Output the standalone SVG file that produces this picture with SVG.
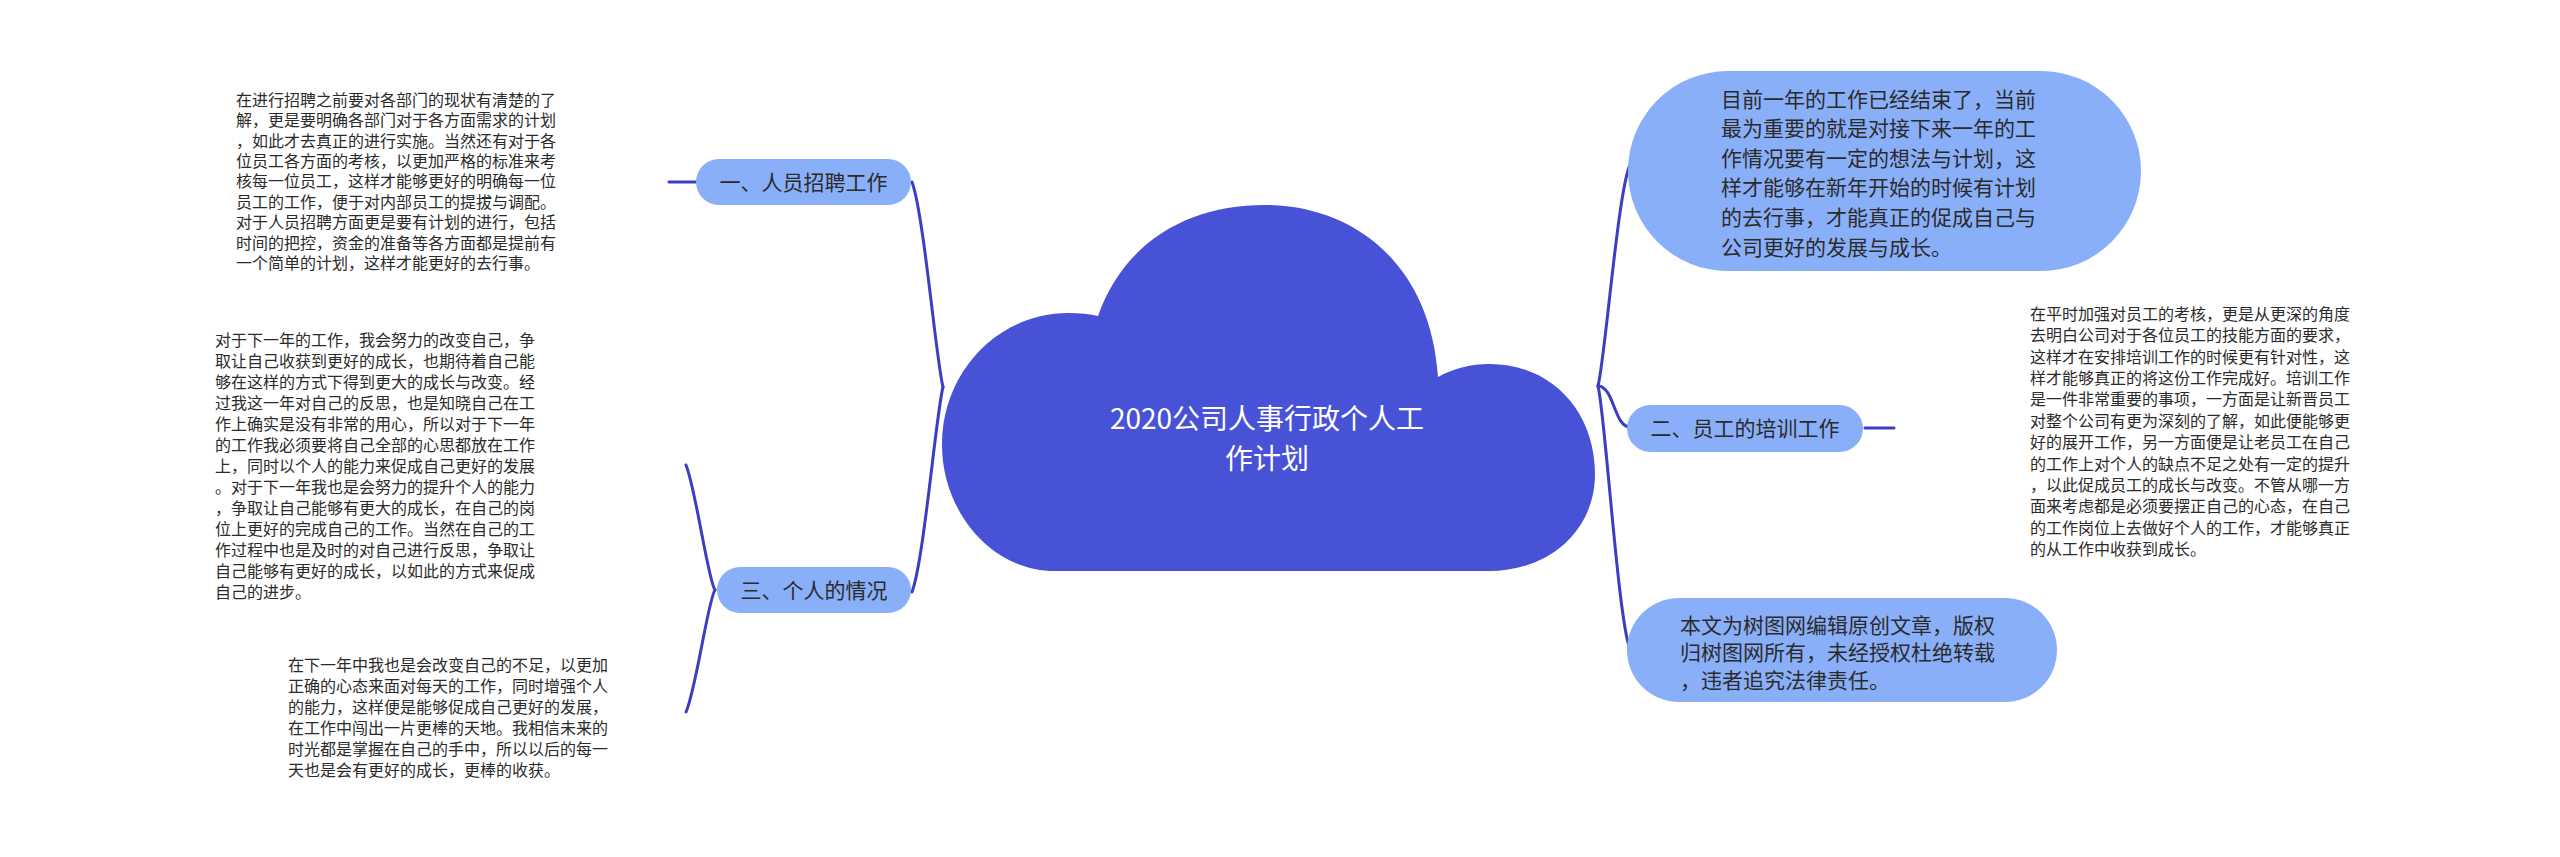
<svg xmlns="http://www.w3.org/2000/svg" width="2560" height="857" viewBox="0 0 2560 857">
<style>
.conn{fill:none;stroke:#3a3fc2;stroke-width:3;stroke-linecap:round}
.pill{fill:#8aaff9}
.cloud{fill:#4752d6}
.t{font-family:"Noto Sans CJK SC","Liberation Sans",sans-serif;fill:#2b2b2b}
.small{font-size:16px}
.mid{font-size:21px}
.title{font-family:"Noto Sans CJK SC","Liberation Sans",sans-serif;font-size:28px;fill:#ffffff}
</style>
<rect width="2560" height="857" fill="#ffffff"/>
<g id="connectors">
<path class="conn" d="M943 387 C936 360 924 215 912 182"/>
<path class="conn" d="M943 387 C936 414 924 560 912 592"/>
<path class="conn" d="M669 182 L696 182"/>
<path class="conn" d="M715 590 C708 580 696 490 686 465"/>
<path class="conn" d="M715 590 C708 600 696 690 686 712"/>
<path class="conn" d="M1598 386 C1605 360 1618 190 1630 165"/>
<path class="conn" d="M1598 386 C1614 386 1614 427 1630 427"/>
<path class="conn" d="M1598 386 C1605 412 1618 620 1630 649"/>
<path class="conn" d="M1865 428 L1894 428"/>
</g>
<g id="root">
<path class="cloud" d="M1055 571 C990 571 942 510 942 445 C942 370 1000 313 1068 313 C1080 313 1090 314 1098 316 C1125 240 1190 205 1265 205 C1350 205 1430 260 1438 377 C1455 368 1470 364 1490 364 C1550 364 1595 410 1595 474 C1595 530 1550 571 1489 571 Z"/>
<text class="title" text-anchor="middle"><tspan x="1267" y="428.5">2020公司人事行政个人工</tspan><tspan x="1267" y="468.5">作计划</tspan></text>
</g>
<g id="n1">
<rect class="pill" x="696" y="159" width="215" height="46" rx="23"/>
<text class="t mid" x="803.5" y="189.5" text-anchor="middle">一、人员招聘工作</text>
</g>
<g id="n1-text">
<text class="t small">
<tspan x="236" y="105.8">在进行招聘之前要对各部门的现状有清楚的了</tspan>
<tspan x="236" y="126.2">解，更是要明确各部门对于各方面需求的计划</tspan>
<tspan x="236" y="146.6">，如此才去真正的进行实施。当然还有对于各</tspan>
<tspan x="236" y="167">位员工各方面的考核，以更加严格的标准来考</tspan>
<tspan x="236" y="187.4">核每一位员工，这样才能够更好的明确每一位</tspan>
<tspan x="236" y="207.8">员工的工作，便于对内部员工的提拔与调配。</tspan>
<tspan x="236" y="228.2">对于人员招聘方面更是要有计划的进行，包括</tspan>
<tspan x="236" y="248.6">时间的把控，资金的准备等各方面都是提前有</tspan>
<tspan x="236" y="269">一个简单的计划，这样才能更好的去行事。</tspan>
</text>
</g>
<g id="n3">
<rect class="pill" x="717" y="567" width="194" height="46" rx="23"/>
<text class="t mid" x="814" y="597.5" text-anchor="middle">三、个人的情况</text>
</g>
<g id="n3-text-a">
<text class="t small">
<tspan x="215" y="345.8">对于下一年的工作，我会努力的改变自己，争</tspan>
<tspan x="215" y="366.8">取让自己收获到更好的成长，也期待着自己能</tspan>
<tspan x="215" y="387.8">够在这样的方式下得到更大的成长与改变。经</tspan>
<tspan x="215" y="408.8">过我这一年对自己的反思，也是知晓自己在工</tspan>
<tspan x="215" y="429.8">作上确实是没有非常的用心，所以对于下一年</tspan>
<tspan x="215" y="450.8">的工作我必须要将自己全部的心思都放在工作</tspan>
<tspan x="215" y="471.8">上，同时以个人的能力来促成自己更好的发展</tspan>
<tspan x="215" y="492.8">。对于下一年我也是会努力的提升个人的能力</tspan>
<tspan x="215" y="513.8">，争取让自己能够有更大的成长，在自己的岗</tspan>
<tspan x="215" y="534.8">位上更好的完成自己的工作。当然在自己的工</tspan>
<tspan x="215" y="555.8">作过程中也是及时的对自己进行反思，争取让</tspan>
<tspan x="215" y="576.8">自己能够有更好的成长，以如此的方式来促成</tspan>
<tspan x="215" y="597.8">自己的进步。</tspan>
</text>
</g>
<g id="n3-text-b">
<text class="t small">
<tspan x="288" y="670.8">在下一年中我也是会改变自己的不足，以更加</tspan>
<tspan x="288" y="691.8">正确的心态来面对每天的工作，同时增强个人</tspan>
<tspan x="288" y="712.8">的能力，这样便是能够促成自己更好的发展，</tspan>
<tspan x="288" y="733.8">在工作中闯出一片更棒的天地。我相信未来的</tspan>
<tspan x="288" y="754.8">时光都是掌握在自己的手中，所以以后的每一</tspan>
<tspan x="288" y="775.8">天也是会有更好的成长，更棒的收获。</tspan>
</text>
</g>
<g id="r1">
<rect class="pill" x="1628" y="71" width="513" height="200" rx="100"/>
<text class="t mid">
<tspan x="1721" y="106.5">目前一年的工作已经结束了，当前</tspan>
<tspan x="1721" y="136.1">最为重要的就是对接下来一年的工</tspan>
<tspan x="1721" y="165.7">作情况要有一定的想法与计划，这</tspan>
<tspan x="1721" y="195.3">样才能够在新年开始的时候有计划</tspan>
<tspan x="1721" y="224.9">的去行事，才能真正的促成自己与</tspan>
<tspan x="1721" y="254.5">公司更好的发展与成长。</tspan>
</text>
</g>
<g id="r2">
<rect class="pill" x="1627" y="405" width="236" height="47" rx="23.5"/>
<text class="t mid" x="1745" y="435.5" text-anchor="middle">二、员工的培训工作</text>
</g>
<g id="r2-text">
<text class="t small">
<tspan x="2030" y="319.8">在平时加强对员工的考核，更是从更深的角度</tspan>
<tspan x="2030" y="341.2">去明白公司对于各位员工的技能方面的要求，</tspan>
<tspan x="2030" y="362.6">这样才在安排培训工作的时候更有针对性，这</tspan>
<tspan x="2030" y="384">样才能够真正的将这份工作完成好。培训工作</tspan>
<tspan x="2030" y="405.4">是一件非常重要的事项，一方面是让新晋员工</tspan>
<tspan x="2030" y="426.8">对整个公司有更为深刻的了解，如此便能够更</tspan>
<tspan x="2030" y="448.2">好的展开工作，另一方面便是让老员工在自己</tspan>
<tspan x="2030" y="469.6">的工作上对个人的缺点不足之处有一定的提升</tspan>
<tspan x="2030" y="491">，以此促成员工的成长与改变。不管从哪一方</tspan>
<tspan x="2030" y="512.4">面来考虑都是必须要摆正自己的心态，在自己</tspan>
<tspan x="2030" y="533.8">的工作岗位上去做好个人的工作，才能够真正</tspan>
<tspan x="2030" y="555.2">的从工作中收获到成长。</tspan>
</text>
</g>
<g id="r3">
<rect class="pill" x="1627" y="598" width="430" height="104" rx="52"/>
<text class="t mid">
<tspan x="1680" y="632.5">本文为树图网编辑原创文章，版权</tspan>
<tspan x="1680" y="660">归树图网所有，未经授权杜绝转载</tspan>
<tspan x="1680" y="687.5">，违者追究法律责任。</tspan>
</text>
</g>
</svg>
